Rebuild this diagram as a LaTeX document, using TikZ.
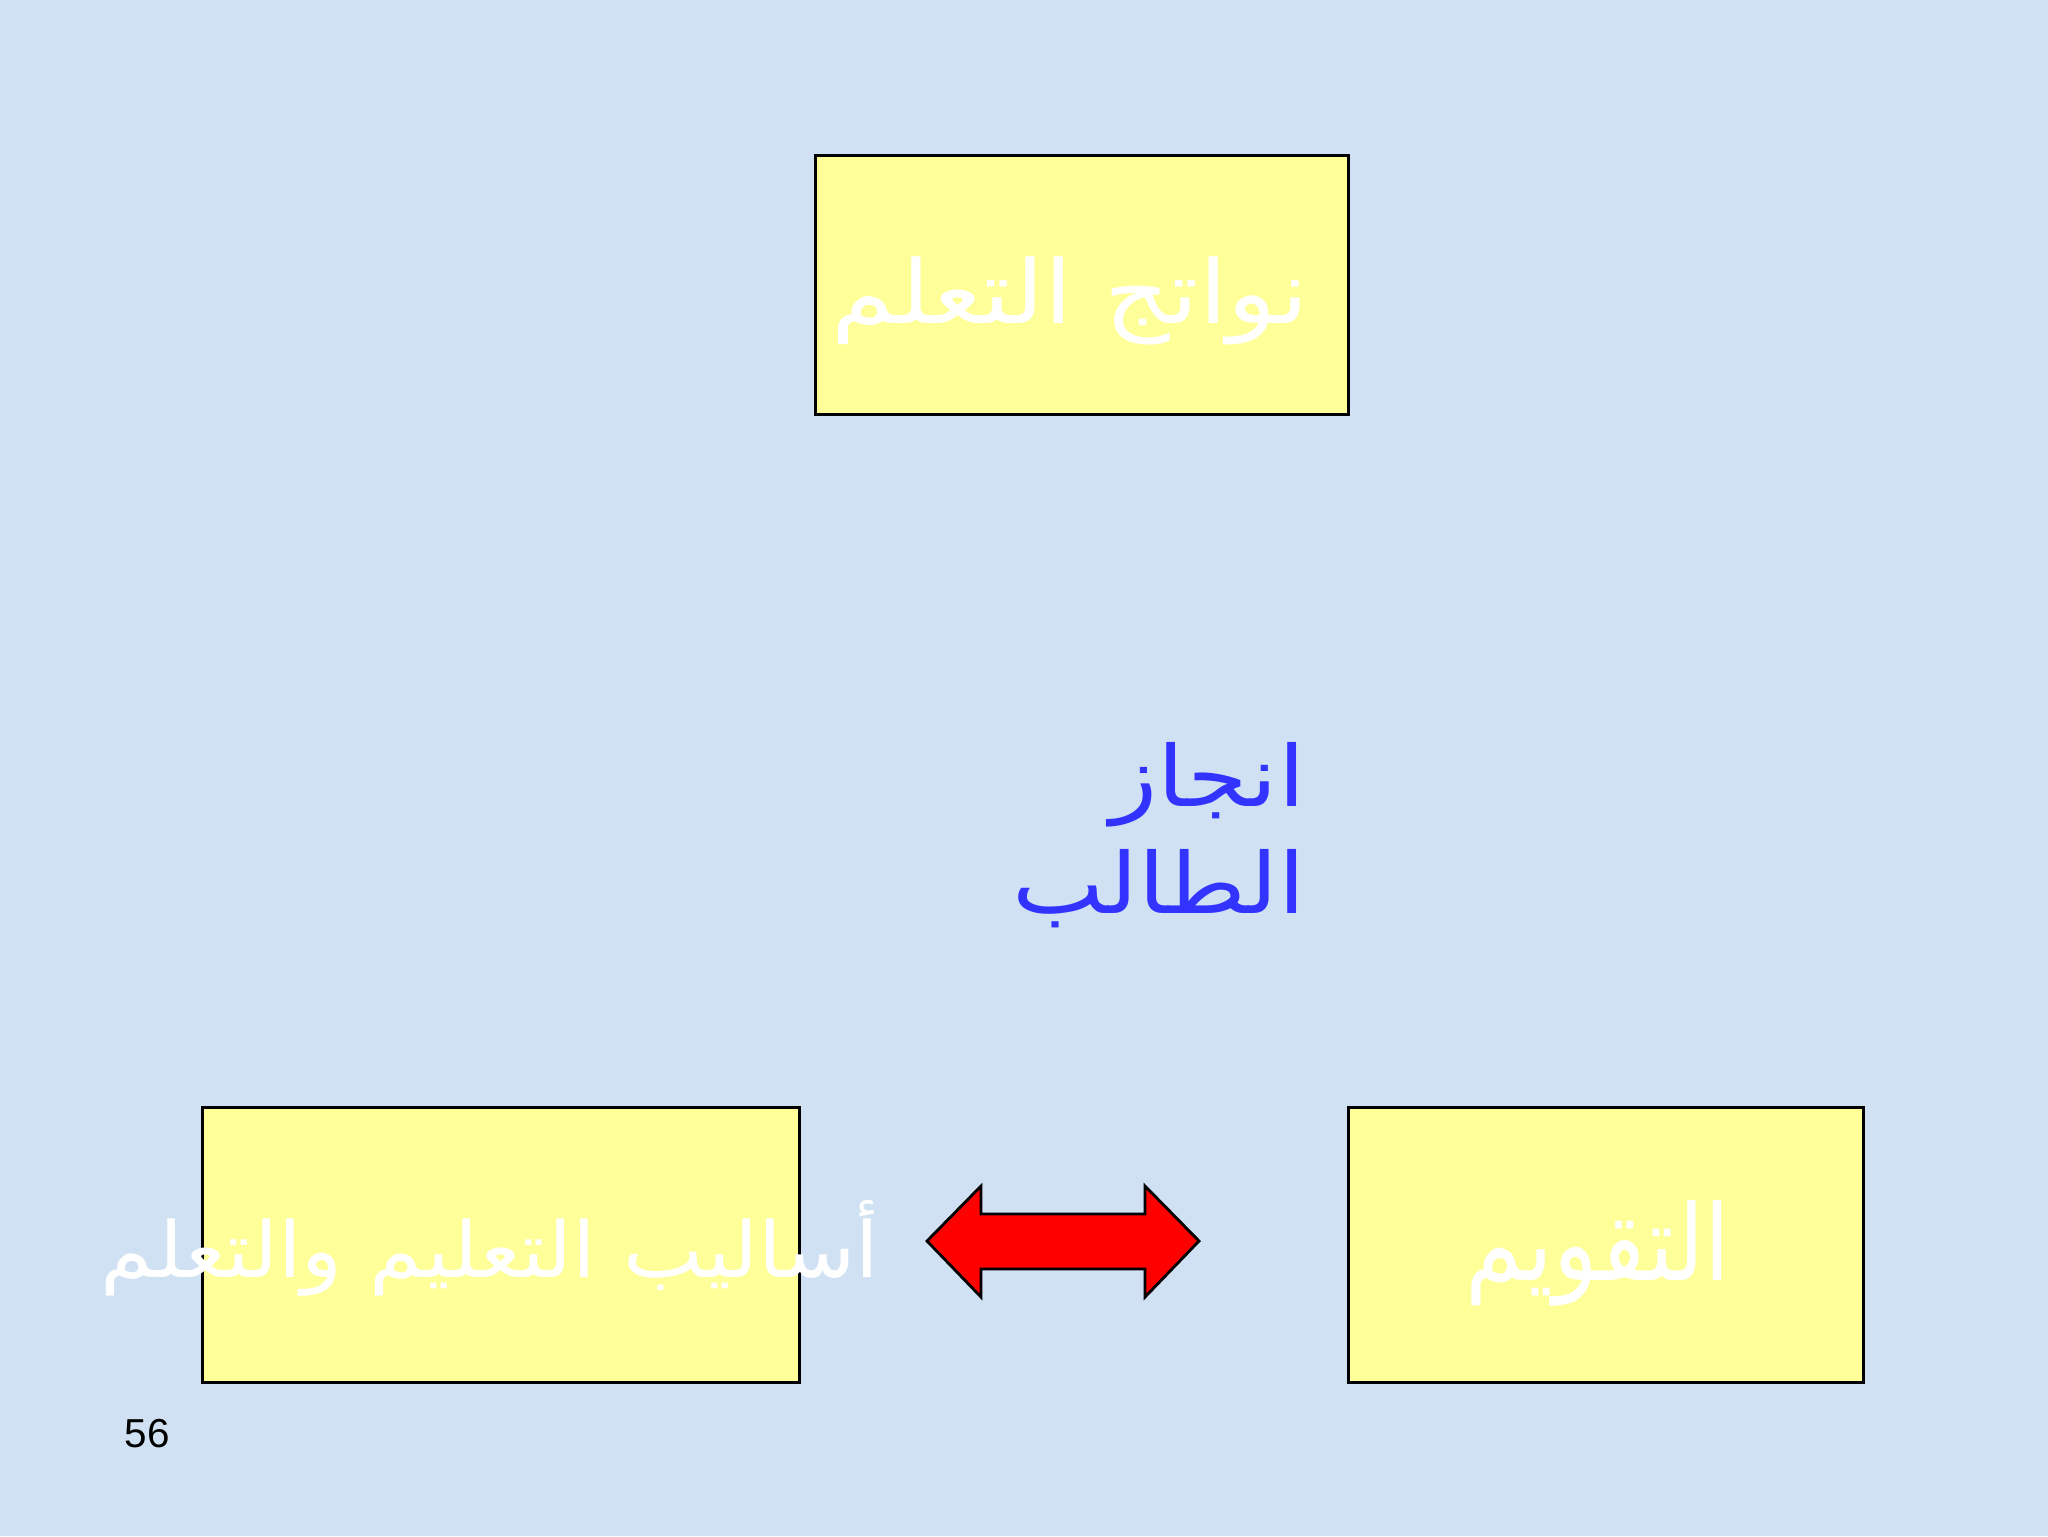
\documentclass[tikz,border=0pt]{standalone}
\usepackage{fontspec}
\setmainfont{Liberation Sans}
\newfontfamily\arabicfont[Script=Arabic]{DejaVu Sans}
\newfontfamily\arabicwide[Script=Arabic, FakeStretch=1.16]{DejaVu Sans}
\newfontfamily\arabicmid[Script=Arabic, FakeStretch=1.10]{DejaVu Sans}
\newfontfamily\arabicnarrow[Script=Arabic, FakeStretch=0.88]{DejaVu Sans}
\TeXXeTstate=1
\definecolor{bgblue}{RGB}{208,225,243}
\definecolor{boxyellow}{RGB}{255,255,153}
\definecolor{labelblue}{RGB}{51,51,255}
\definecolor{arrowred}{RGB}{255,0,0}
\begin{document}
\begin{tikzpicture}[x=0.1mm,y=-0.1mm,
  box/.style={draw=black, line width=0.8pt, fill=boxyellow, inner sep=0pt, anchor=north west},
  wtext/.style={text=white, inner sep=0pt, anchor=base},
  btext/.style={text=labelblue, inner sep=0pt, align=right}]
\useasboundingbox[fill=bgblue] (0,0) rectangle (2048,1536);
% boxes
\node[box, minimum width=53.3mm, minimum height=25.9mm] (topbox) at (814,154) {};
\node[box, minimum width=59.7mm, minimum height=27.5mm] (leftbox) at (201,1106) {};
\node[box, minimum width=51.5mm, minimum height=27.5mm] (rightbox) at (1347,1106) {};
% texts
\node[wtext, font=\arabicwide\fontsize{25}{30}\selectfont] (toptext) at (1070,323) {\beginR نواتج التعلم\endR};
\node[wtext, font=\arabicmid\fontsize{22}{26}\selectfont] (lefttext) at (490,1277) {\beginR أساليب التعليم والتعلم\endR};
\node[wtext, font=\arabicnarrow\fontsize{30}{36}\selectfont] (righttext) at (1598,1280) {\beginR التقويم\endR};
\node[btext, font=\arabicwide\fontsize{24}{30.4}\selectfont, anchor=north east] (student) at (1306,742) {\beginR انجاز\endR\\\beginR الطالب\endR};
% double arrow
\draw[fill=arrowred, draw=black, line width=0.8pt, line join=miter]
  (927,1241) -- (981,1186) -- (981,1214) -- (1145,1214) -- (1145,1186) -- (1199,1241)
  -- (1145,1297) -- (1145,1269) -- (981,1269) -- (981,1297) -- cycle;
% page number
\node[inner sep=0pt, anchor=base west, font=\fontsize{11.5}{14}\selectfont] (pagenum) at (124,1447) {56};
\end{tikzpicture}
\end{document}
